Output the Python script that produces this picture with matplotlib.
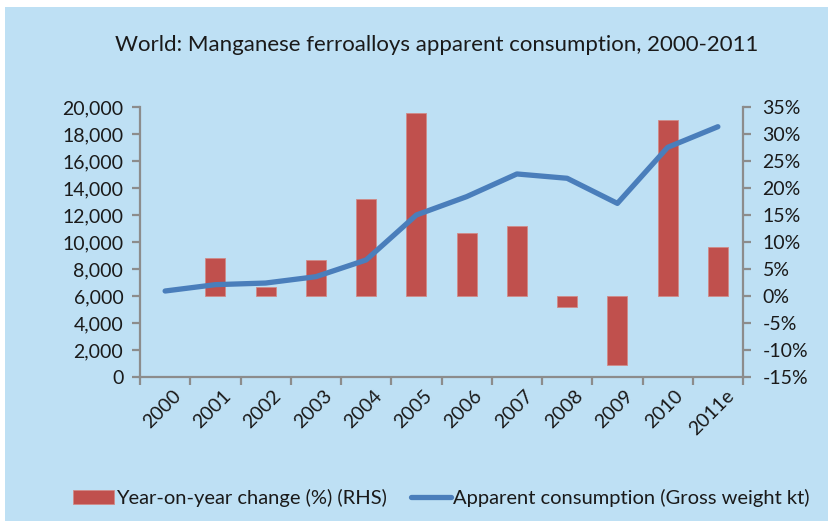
import numpy as np
import matplotlib
matplotlib.use("Agg")
import matplotlib.pyplot as plt
from matplotlib.patches import Rectangle
from matplotlib.ticker import FuncFormatter, FixedLocator

# data
years = ["2000", "2001", "2002", "2003", "2004", "2005", "2006",
         "2007", "2008", "2009", "2010", "2011e"]
consumption = [6370, 6840, 6960, 7430, 8670, 12000, 13360,
               15040, 14720, 12860, 17010, 18540]
yoy_change = [np.nan, 7.0, 1.6, 6.6, 18.0, 33.8, 11.6,
              13.0, -2.1, -12.8, 32.6, 9.1]

title = "World: Manganese ferroalloys apparent consumption, 2000-2011"
bar_label = "Year-on-year change (%) (RHS)"
line_label = "Apparent consumption (Gross weight kt)"

BG = "#bee0f4"
RED = "#c0504d"
BLUE = "#4a7ebb"
AXIS = "#8c8c8c"
TXT = "#1a1a1a"

plt.rcParams['font.family'] = ['Lato', 'DejaVu Sans']


def main():
    fig = plt.figure(figsize=(8.33, 5.26), dpi=100)
    fig.patch.set_facecolor("white")
    # light blue panel with a thin white margin
    fig.patches.append(Rectangle((5 / 833, 5 / 526), 823 / 833, 514 / 526,
                                 transform=fig.transFigure, facecolor=BG,
                                 edgecolor="none", zorder=-5))

    ax = fig.add_axes([140 / 833, 149 / 526, 603 / 833, 270 / 526])
    ax2 = ax.twinx()
    ax.set_zorder(ax2.get_zorder() + 1)
    ax.patch.set_visible(False)
    ax2.patch.set_visible(False)

    x = np.arange(len(years))
    ax2.bar(x, yoy_change, width=0.4, color=RED, edgecolor="#d08a88",
            linewidth=0.6, label=bar_label)
    ax.plot(x, consumption, color=BLUE, lw=3.8, solid_capstyle="round",
            solid_joinstyle="round", label=line_label)

    ax.set_xlim(-0.5, len(years) - 0.5)
    ax.set_ylim(0, 20000)
    ax.set_yticks(np.arange(0, 20001, 2000))
    ax.yaxis.set_major_formatter(FuncFormatter(lambda v, p: f"{v:,.0f}"))
    ax2.set_ylim(-15, 35)
    ax2.set_yticks(np.arange(-15, 36, 5))
    ax2.yaxis.set_major_formatter(FuncFormatter(lambda v, p: f"{v:.0f}%"))

    # category boundaries as ticks, labels (slightly right of centre) between
    ax.xaxis.set_major_locator(FixedLocator(np.arange(-0.5, len(years), 1)))
    ax.xaxis.set_major_formatter(FuncFormatter(lambda v, p: ""))
    ax.set_xticks(x + 0.14, minor=True)
    ax.set_xticklabels(years, minor=True, rotation=45, ha="right",
                       va="top", rotation_mode="anchor")

    for a in (ax, ax2):
        a.spines["top"].set_visible(False)
        for s in ("left", "right", "bottom"):
            a.spines[s].set_color(AXIS)
            a.spines[s].set_linewidth(1.6)
        a.tick_params(colors=AXIS, width=1.6, length=6, labelcolor=TXT,
                      labelsize=14)
    ax.spines["right"].set_visible(False)
    ax2.spines["left"].set_visible(False)
    ax2.spines["bottom"].set_visible(False)
    ax.tick_params(axis="x", which="minor", length=0, pad=7,
                   labelsize=14, labelcolor=TXT)
    ax.tick_params(axis="y", pad=6)
    ax2.tick_params(axis="y", pad=8)

    fig.text(0.524, 1 - 45 / 526, title, ha="center", va="center",
             fontsize=16, color=TXT)

    h1, l1 = ax2.get_legend_handles_labels()
    h2, l2 = ax.get_legend_handles_labels()
    fig.legend(h1 + h2, l1 + l2, loc="center", ncol=2,
               bbox_to_anchor=(0.53, 1 - 498 / 526), frameon=False,
               fontsize=14.5, handlelength=2.0, handletextpad=0.1,
               columnspacing=1.2, labelcolor=TXT)

    fig.savefig("out.png", dpi=100, facecolor=fig.get_facecolor())


if __name__ == '__main__':
    main()
